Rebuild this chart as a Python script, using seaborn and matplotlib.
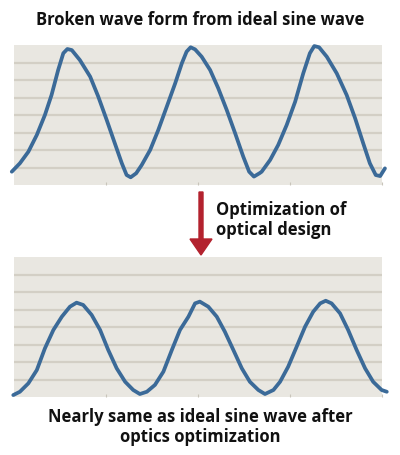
import numpy as np
import pandas as pd
import matplotlib
matplotlib.use("Agg")
import matplotlib.pyplot as plt
import seaborn as sns

# ---- data ----
top_x = [-0.06, 0.16, 0.39, 0.62, 0.84, 1.02, 1.20, 1.34, 1.45, 1.57, 1.79, 2.07, 2.29, 2.52, 2.74,
         2.93, 3.06, 3.17, 3.32, 3.47, 3.70, 3.92, 4.15, 4.38, 4.56, 4.69, 4.80, 4.92, 5.10, 5.33,
         5.55, 5.78, 6.01, 6.23, 6.39, 6.52, 6.67, 6.73, 6.96, 7.18, 7.41, 7.64, 7.86, 8.04, 8.16,
         8.29, 8.50, 8.77, 9.04, 9.27, 9.49, 9.67, 9.83, 9.95, 10.08]
top_y = [0.76, 1.24, 1.90, 2.86, 4.00, 5.14, 6.57, 7.53, 7.77, 7.71, 7.14, 6.19, 5.05, 3.71, 2.38,
         1.24, 0.57, 0.44, 0.67, 1.14, 2.00, 3.14, 4.47, 5.81, 6.95, 7.62, 7.87, 7.75, 7.33, 6.57,
         5.53, 4.29, 2.95, 1.62, 0.76, 0.48, 0.67, 0.76, 1.43, 2.29, 3.43, 4.76, 6.38, 7.53, 7.94,
         7.87, 7.33, 6.38, 5.14, 3.81, 2.38, 1.24, 0.57, 0.51, 0.95]

bot_x = [-0.02, 0.16, 0.39, 0.62, 0.84, 1.07, 1.30, 1.52, 1.70, 1.88, 2.11, 2.34, 2.56, 2.79, 3.02,
         3.24, 3.42, 3.61, 3.83, 4.06, 4.29, 4.51, 4.74, 4.92, 5.05, 5.28, 5.51, 5.73, 5.96, 6.19,
         6.41, 6.64, 6.82, 7.05, 7.23, 7.45, 7.68, 7.91, 8.13, 8.32, 8.47, 8.63, 8.86, 9.08, 9.31,
         9.54, 9.76, 9.99, 10.13]
bot_y = [0.11, 0.30, 0.78, 1.54, 2.78, 3.83, 4.59, 5.16, 5.39, 5.26, 4.69, 3.83, 2.69, 1.64, 0.87,
         0.40, 0.17, 0.30, 0.69, 1.45, 2.69, 3.83, 4.59, 5.35, 5.45, 5.16, 4.59, 3.73, 2.69, 1.64,
         0.87, 0.40, 0.17, 0.40, 0.87, 1.73, 2.87, 4.02, 4.87, 5.35, 5.50, 5.35, 4.78, 3.83, 2.69,
         1.64, 0.87, 0.40, 0.30]

grid_levels = [1, 2, 3, 4, 5, 6, 7]
x_ticks = [2.5, 5.0, 7.5, 10.0]

title_top = "Broken wave form from ideal sine wave"
arrow_label = "Optimization of\noptical design"
title_bottom = "Nearly same as ideal sine wave after\noptics optimization"

# ---- style ----
sns.set_theme(style="white")
plt.rcParams['font.family'] = ['Open Sans', 'DejaVu Sans']

BG = "#e9e7e1"
GRID = "#d3cfc5"
LINE = "#3b6a98"
RED = "#b3222e"

fig = plt.figure(figsize=(4.0, 4.55), dpi=100)
fig.patch.set_facecolor("white")

def panel(rect, xs, ys):
    ax = fig.add_axes(rect)
    ax.set_facecolor(BG)
    for g in grid_levels:
        ax.axhline(g, color=GRID, lw=1.6, zorder=1)
    df = pd.DataFrame({"x": xs, "y": ys})
    sns.lineplot(data=df, x="x", y="y", ax=ax, color=LINE, lw=2.7,
                 sort=False, estimator=None, zorder=3, clip_on=False,
                 solid_joinstyle="round", solid_capstyle="round")
    ax.set_xlim(0, 10)
    ax.set_ylim(0, 8)
    ax.set_xticks(x_ticks)
    ax.set_yticks([])
    ax.tick_params(axis="x", length=2, width=0.8, color="#c8c4ba", direction="in",
                   labelbottom=False, bottom=True)
    for s in ax.spines.values():
        s.set_visible(False)
    ax.set_xlabel("")
    ax.set_ylabel("")
    return ax

ax1 = panel([0.035, 1 - 185 / 455, 0.92, 140 / 455], top_x, top_y)
ax2 = panel([0.035, 1 - 397 / 455, 0.92, 140 / 455], bot_x, bot_y)

fig.text(0.5, 1 - 20 / 455, title_top, ha="center", va="center",
         fontsize=12, fontweight="bold", color="#111111")
fig.text(0.5, 1 - 427 / 455, title_bottom, ha="center", va="center",
         fontsize=12, fontweight="bold", color="#111111", linespacing=1.1)
fig.text(216 / 400, 1 - 220 / 455, arrow_label, ha="left", va="center",
         fontsize=12, fontweight="bold", color="#111111", linespacing=1.2)

fig.patches.append(matplotlib.patches.FancyArrow(
    201 / 400, 1 - 192 / 455, 0, -(63 / 455), width=4 / 400,
    head_width=22 / 400, head_length=16 / 455, length_includes_head=True,
    color=RED, transform=fig.transFigure, figure=fig))

fig.savefig("out.png", dpi=100, facecolor="white")
